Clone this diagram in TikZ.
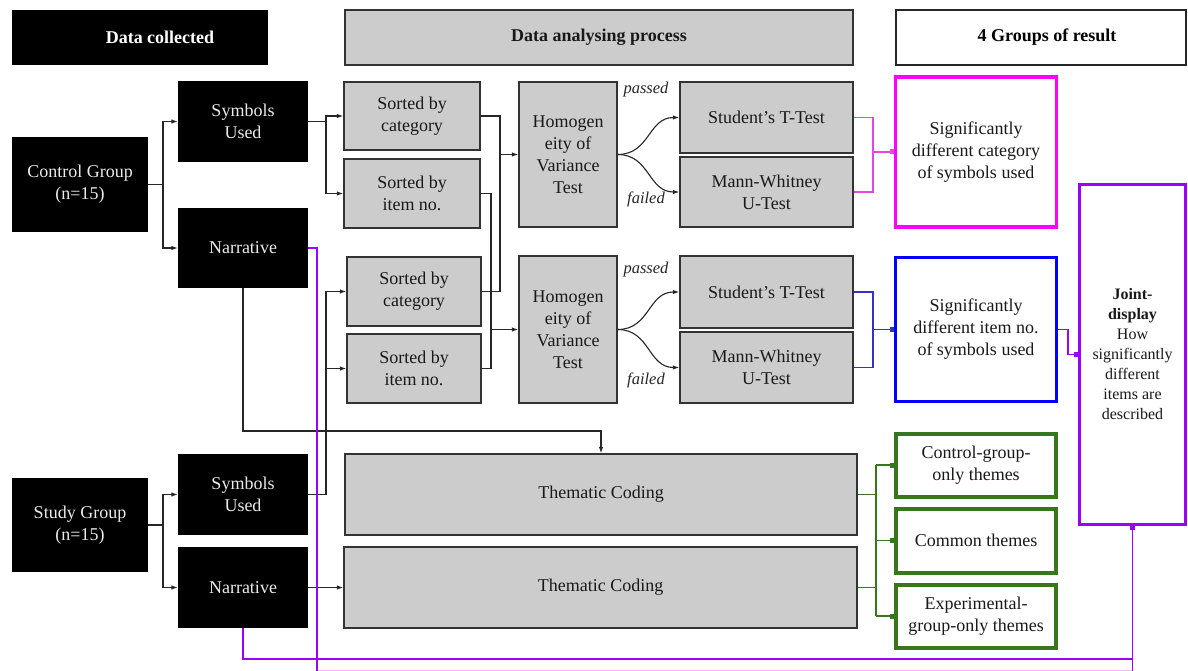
\documentclass[tikz,border=0pt]{standalone}
\usepackage{fontspec}
\setmainfont{Liberation Serif}
\usetikzlibrary{arrows.meta}
\definecolor{boxgray}{HTML}{CCCCCC}
\definecolor{edgegray}{HTML}{333333}
\definecolor{magres}{HTML}{FF00FF}
\definecolor{maglink}{HTML}{E645E6}
\definecolor{blueres}{HTML}{0000FF}
\definecolor{bluelink}{HTML}{3333CC}
\definecolor{purpres}{HTML}{9900FF}
\definecolor{greenres}{HTML}{38761D}
\definecolor{lightpink}{HTML}{FFB8FF}
\begin{document}
\begin{tikzpicture}[x=1pt,y=-1pt,
 base/.style={inner sep=0pt, align=center, font=\fontsize{18}{22}\selectfont},
 blk/.style={base, fill=black, text=white!92!black},
 gry/.style={base, fill=boxgray, draw=edgegray, line width=1.3pt, text=black!90},
 res/.style={base, fill=white, line width=3.5pt, text=black!90},
 hdr/.style={font=\fontsize{18}{22}\selectfont\bfseries},
 conn/.style={line width=1.1pt, draw=black!85},
 arr/.style={conn, -{Latex[length=6.5pt,width=4.5pt]}},
 sq/.style={-{Square[length=4pt,width=5pt]}},
 lnk/.style={line width=1.2pt},
 lab/.style={font=\fontsize{16.5}{18}\selectfont\itshape, text=black!85},
]
\useasboundingbox (0,0) rectangle (1188,671);

% headers
\node[blk, hdr, minimum width=256pt, minimum height=55pt, text=white] (hdc) at (140,37.5) {\hspace*{40pt}Data collected};
\node[gry, hdr, line width=1.8pt, minimum width=508pt, minimum height=55pt] (hda) at (599,37.5) {Data analysing process};
\node[base, hdr, draw=black!85, line width=1.8pt, fill=white, minimum width=290pt, minimum height=55pt] (hgr) at (1041,37.5) {\hspace*{12pt}4 Groups of result};

% groups
\node[blk, minimum width=136pt, minimum height=95pt] (cg) at (80,184.5) {Control Group\\(n=15)};
\node[blk, minimum width=136pt, minimum height=94pt] (sg) at (80,525) {Study Group\\(n=15)};

\node[blk, minimum width=130pt, minimum height=81pt] (su1) at (243,121.5) {Symbols\\Used};
\node[blk, minimum width=130pt, minimum height=80pt] (n1) at (243,248) {Narrative};
\node[blk, minimum width=130pt, minimum height=81pt] (su2) at (243,494.5) {Symbols\\Used};
\node[blk, minimum width=130pt, minimum height=81pt] (n2) at (243,587.5) {Narrative};

% sorted
\node[gry, minimum width=136pt, minimum height=68pt] (cat1) at (412,116) {Sorted by\\category};
\node[gry, minimum width=136pt, minimum height=69pt] (item1) at (412,193.5) {Sorted by\\item no.};
\node[gry, minimum width=134pt, minimum height=69pt] (cat2) at (414,291.5) {Sorted by\\category};
\node[gry, minimum width=134pt, minimum height=69pt] (item2) at (414,368.5) {Sorted by\\item no.};

% homogeneity
\node[gry, minimum width=98pt, minimum height=145pt] (h1) at (568,154.5) {Homogen\\eity of\\Variance\\Test};
\node[gry, minimum width=98pt, minimum height=147pt] (h2) at (568,329.5) {Homogen\\eity of\\Variance\\Test};

% tests
\node[gry, minimum width=173pt, minimum height=71pt] (st1) at (766.5,117.5) {Student’s T-Test};
\node[gry, minimum width=173pt, minimum height=70pt] (mw1) at (766.5,192) {Mann-Whitney\\U-Test};
\node[gry, minimum width=173pt, minimum height=72pt] (st2) at (766.5,292) {Student’s T-Test};
\node[gry, minimum width=173pt, minimum height=71pt] (mw2) at (766.5,367.5) {Mann-Whitney\\U-Test};

% thematic coding
\node[gry, minimum width=512pt, minimum height=81pt] (tc1) at (601,494.5) {Thematic Coding};
\node[gry, minimum width=513pt, minimum height=81pt] (tc2) at (600.5,587.5) {Thematic Coding};

% results
\node[res, draw=magres, minimum width=161pt, minimum height=150pt] (mag) at (976,152) {Significantly\\different category\\of symbols used};
\node[res, draw=blueres, minimum width=161pt, minimum height=144pt] (blu) at (976,329.5) {Significantly\\different item no.\\of symbols used};
\node[res, draw=purpres, line width=3pt, minimum width=106pt, minimum height=340pt, font=\fontsize{16}{20}\selectfont] (joint) at (1132.5,354.5) {\textbf{Joint-}\\\textbf{display}\\How\\significantly\\different\\items are\\described};
\node[res, draw=greenres, line width=4pt, minimum width=160pt, minimum height=63pt] (cgo) at (976,465) {Control-group-\\only themes};
\node[res, draw=greenres, line width=4pt, minimum width=160pt, minimum height=64pt] (com) at (976,540.5) {Common themes};
\node[res, draw=greenres, line width=4pt, minimum width=160pt, minimum height=63pt] (exp) at (976,616) {Experimental-\\group-only themes};

% group -> data
\draw[conn] (cg.east) -- (163,184.5);
\draw[arr] (163,184.5) |- (su1.west);
\draw[arr] (163,184.5) |- (n1.west);
\draw[conn] (sg.east) -- (163,525);
\draw[arr] (163,525) |- (su2.west);
\draw[arr] (163,525) |- (n2.west);

% symbols -> sorted
\draw[conn] (su1.east) -- (326,121.5);
\draw[arr] (326,121.5) |- (cat1.west);
\draw[arr] (326,121.5) |- (item1.west);
\draw[conn] (su2.east) -- (326,494.5);
\draw[arr] (326,494.5) |- (cat2.west);
\draw[arr] (326,494.5) |- (item2.west);

% sorted -> homogeneity
\draw[conn] (cat1.east) -| (500,154.5);
\draw[conn] (cat2.east) -| (500,154.5);
\draw[arr] (500,154.5) -- (h1.west);
\draw[conn] (item1.east) -| (491,329.5);
\draw[conn] (item2.east) -| (491,329.5);
\draw[arr] (491,329.5) -- (h2.west);

% homogeneity -> tests
\draw[arr] (h1.east) .. controls (650,154.5) and (648,117.5) .. (st1.west);
\draw[arr] (h1.east) .. controls (650,154.5) and (648,192) .. (mw1.west);
\draw[arr] (h2.east) .. controls (650,329.5) and (648,292) .. (st2.west);
\draw[arr] (h2.east) .. controls (650,329.5) and (648,367.5) .. (mw2.west);
\node[lab] (p1) at (646,90) {passed};
\node[lab] (f1) at (646,199) {failed};
\node[lab] (p2) at (646,270) {passed};
\node[lab] (f2) at (646,380) {failed};

% tests -> results
\draw[maglink, lnk] (st1.east) -| (873,192) -- (mw1.east);
\draw[maglink, lnk, sq] (873,152) -- (mag.west);
\draw[bluelink, lnk] (st2.east) -| (873,367.5) -- (mw2.east);
\draw[bluelink, lnk, sq] (873,329.5) -- (blu.west);
\draw[purpres, lnk, sq] (blu.east) -| (1068,354.5) -- (joint.west);

% narrative -> thematic coding
\draw[arr] (n1.south) |- (601,431) -- (tc1.north);
\draw[arr] (n2.east) -- (tc2.west);

% thematic -> themes
\draw[greenres, lnk] (tc1.east) -- (876,494.5);
\draw[greenres, lnk] (tc2.east) -- (876,587.5);
\draw[greenres, lnk] (876,465) -- (876,616);
\draw[greenres, lnk, sq] (876,465) -- (cgo.west);
\draw[greenres, lnk, sq] (876,540.5) -- (com.west);
\draw[greenres, lnk, sq] (876,616) -- (exp.west);

% purple lines to joint display
\draw[lightpink, line width=1pt] (317,670) -- (1132.5,670);
\draw[purpres, lnk] (n1.east) -| (317,672);
\draw[purpres, lnk, sq] (n2.south) |- (1132.5,659) -- (joint.south);
\draw[purpres, lnk] (1132.5,659) -- (1132.5,672);
\end{tikzpicture}
\end{document}
